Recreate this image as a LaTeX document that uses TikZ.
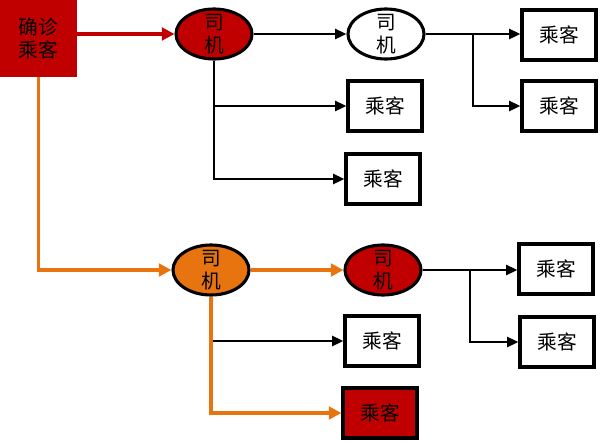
\documentclass[tikz,border=0pt]{standalone}
\usepackage{fontspec}
\setmainfont{Noto Sans CJK SC}
\usetikzlibrary{shapes.geometric, arrows.meta}
\definecolor{cred}{HTML}{C00000}
\definecolor{corange}{HTML}{E8740F}

\begin{document}
\begin{tikzpicture}
  [x=0.025cm, y=-0.025cm,
   font=\fontsize{14pt}{17pt}\selectfont,
   source box/.style={rectangle,fill=cred,minimum width=1.93cm,minimum height=1.93cm,align=center,inner sep=0pt},
   driver node/.style={draw,ellipse,line width=2.2pt,fill=#1,minimum width=1.9cm,minimum height=1.25cm,inner sep=0pt,
     label={[align=center,inner sep=0pt,font=\fontsize{14pt}{16pt}\selectfont]center:司\\机}},
   passenger box/.style={draw,rectangle,line width=2.2pt,fill=#1,minimum width=1.85cm,minimum height=1.25cm,inner sep=0pt},
   link/.style={line width=1.9pt,-{Triangle[length=8pt,width=7pt]}},
   orange link/.style={corange,line width=2.8pt,-{Triangle[length=9pt,width=9pt]}}]

  \useasboundingbox (0,0) rectangle (600,441);

  \node [source box] (S) at (38.5,38.5) {确诊\\乘客};

  % first chain
  \node [driver node = cred] (D1) at (214,34) {};
  \node [driver node = white] (D2) at (386,34) {};
  \node [passenger box = white] (P1) at (559,35) {乘客};
  \node [passenger box = white] (P2) at (559,106) {乘客};
  \node [passenger box = white] (P3) at (385,106) {乘客};
  \node [passenger box = white] (P4) at (383,179) {乘客};

  % second chain
  \node [driver node = corange] (D3) at (211,270) {};
  \node [driver node = cred] (D4) at (383,270) {};
  \node [passenger box = white] (P5) at (556,269) {乘客};
  \node [passenger box = white] (P6) at (557,342) {乘客};
  \node [passenger box = white] (P7) at (382,341) {乘客};
  \node [passenger box = cred] (P8) at (380,413) {乘客};

  \coordinate (B1) at (473,34);
  \coordinate (B2) at (470,270);

  \draw [link, cred, line width=2.4pt, -{Triangle[length=9pt,width=9pt]}] (S.east |- D1.west) -- (D1.west);
  \draw [link] (D1) -- (D2);
  \draw [link] (D2.east) -- (P1.west |- D2.east);
  \draw [link] (B1) |- (P2.west);
  \draw [link] (D1.south) |- (P4.west);
  \draw [link] (D1.south |- P3.west) -- (P3.west);

  \draw [orange link] (S.south) |- (D3.west);
  \draw [orange link] (D3) -- (D4);
  \draw [link] (D4.east) -- (P5.west |- D4.east);
  \draw [link] (B2) |- (P6.west);
  \draw [link] (D3.south |- P7.west) -- (P7.west);
  \draw [orange link] (D3.south) |- (P8.west);

\end{tikzpicture}
\end{document}
